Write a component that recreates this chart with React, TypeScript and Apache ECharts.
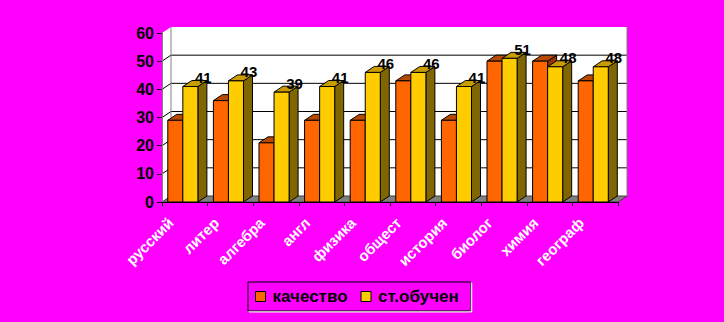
import React, { useEffect, useRef } from "react";
import * as echarts from "echarts";

const categories = ["русский", "литер", "алгебра", "англ", "физика", "общест", "история", "биолог", "химия", "географ"];
const quality = [29, 36, 21, 29, 29, 43, 29, 50, 50, 43];
const avgGrade = [41, 43, 39, 41, 46, 46, 41, 51, 48, 48];
const seriesNames = ["качество", "ст.обучен"];
const yTicks = [0, 10, 20, 30, 40, 50, 60];

const FONT = "'Liberation Sans', Arial, sans-serif";
const DX = 9;
const DY = -6;

const palettes = [
  { front: "#FF6600", top: "#B84A00", side: "#993300" },
  { front: "#FFCC00", top: "#C99C00", side: "#806600" },
];

function makeBarRender(idx: number, showLabel: boolean) {
  const pal = palettes[idx];
  return (params: any, api: any) => {
    const ci = api.value(0);
    const v = api.value(1);
    const base = api.coord([ci, 0]);
    const topPt = api.coord([ci, v]);
    const bw = api.size([1, 0])[0];
    const w = bw * 0.33;
    const x0 = base[0] - bw * 0.373 + idx * w;
    const x1 = x0 + w;
    const y0 = base[1];
    const y1 = topPt[1];
    const children: any[] = [
      {
        type: "polygon",
        shape: { points: [[x1, y1], [x1 + DX, y1 + DY], [x1 + DX, y0 + DY], [x1, y0]] },
        style: { fill: pal.side, stroke: "#000", lineWidth: 1 },
      },
      {
        type: "polygon",
        shape: { points: [[x0, y1], [x0 + DX, y1 + DY], [x1 + DX, y1 + DY], [x1, y1]] },
        style: { fill: pal.top, stroke: "#000", lineWidth: 1 },
      },
      {
        type: "rect",
        shape: { x: x0, y: y1, width: w, height: y0 - y1 },
        style: { fill: pal.front, stroke: "#000", lineWidth: 1 },
      },
    ];
    if (showLabel) {
      children.push({
        type: "text",
        x: (x0 + x1) / 2 + 13,
        y: y1 - 9,
        style: {
          text: String(v),
          fill: "#000",
          font: `bold 15px ${FONT}`,
          align: "center",
          verticalAlign: "middle",
        },
      });
    }
    return { type: "group", children };
  };
}

function wallsRender(params: any, api: any) {
  const cs = params.coordSys;
  const L = cs.x;
  const T = cs.y;
  const W = cs.width;
  const B = cs.y + cs.height;
  const children: any[] = [
    {
      type: "polygon",
      shape: { points: [[L, T], [L + DX, T + DY], [L + DX, B + DY], [L, B]] },
      style: { fill: "#fff" },
    },
    {
      type: "rect",
      shape: { x: L + DX, y: T + DY, width: W, height: cs.height },
      style: { fill: "#fff" },
    },
    {
      type: "polygon",
      shape: { points: [[L, B], [L + DX, B + DY], [L + DX + W, B + DY], [L + W, B]] },
      style: { fill: "#808080", stroke: "#404040", lineWidth: 1 },
    },
  ];
  yTicks.forEach((t) => {
    if (t === 0 || t === yTicks[yTicks.length - 1]) return;
    const y = api.coord([0, t])[1];
    children.push({
      type: "polyline",
      shape: { points: [[L, y], [L + DX, y + DY], [L + DX + W, y + DY]] },
      style: { stroke: "#000", lineWidth: 1, fill: null },
    });
  });
  children.push({
    type: "line",
    shape: { x1: L + DX, y1: T + DY, x2: L + DX, y2: B + DY },
    style: { stroke: "#808080", lineWidth: 1 },
  });
  children.push({
    type: "line",
    shape: { x1: L + DX + W, y1: T + DY, x2: L + DX + W, y2: B + DY },
    style: { stroke: "#808080", lineWidth: 1 },
  });
  return { type: "group", children };
}

export default function App() {
  const ref = useRef<HTMLDivElement>(null);
  useEffect(() => {
    if (!ref.current) return;
    const chart = echarts.init(ref.current, null, { renderer: "svg" });
    const qualityData = quality.map((v, i) => [i, v]);
    const avgData = avgGrade.map((v, i) => [i, v]);
    chart.setOption({
      animation: false,
      backgroundColor: "#FF00FF",
      grid: { left: 162, right: 106, top: 33, bottom: 120, containLabel: false },
      legend: {
        data: seriesNames,
        left: 248,
        top: 282,
        orient: "horizontal",
        icon: "rect",
        itemWidth: 10,
        itemHeight: 10,
        itemGap: 13,
        padding: [6, 12, 6, 7],
        borderColor: "#000",
        borderWidth: 1,
        backgroundColor: "#FF00FF",
        shadowColor: "#fff",
        shadowBlur: 0,
        shadowOffsetX: 1,
        shadowOffsetY: 1,
        itemStyle: { borderColor: "#000", borderWidth: 1 },
        textStyle: { color: "#000", fontSize: 17, fontWeight: "bold", fontFamily: FONT, padding: [0, 0, 0, 2] },
      },
      xAxis: {
        type: "category",
        data: categories,
        z: 10,
        axisLine: { show: true, lineStyle: { color: "#000", width: 1 } },
        axisTick: { show: true, length: 4, lineStyle: { color: "#000" } },
        axisLabel: {
          interval: 0,
          rotate: 45,
          margin: 4,
          padding: [0, 20, 0, 0],
          color: "#fff",
          fontSize: 15,
          fontWeight: "bold",
          fontFamily: FONT,
          textShadowColor: "#222",
          textShadowBlur: 0,
          textShadowOffsetX: 1,
          textShadowOffsetY: 1,
        },
        splitLine: { show: false },
      },
      yAxis: {
        type: "value",
        min: 0,
        max: 60,
        interval: 10,
        z: 10,
        axisLine: { show: true, lineStyle: { color: "#808080", width: 1 } },
        axisTick: { show: true, length: 5, lineStyle: { color: "#000" } },
        axisLabel: {
          margin: 8,
          color: "#000",
          fontSize: 16,
          fontWeight: "bold",
          fontFamily: FONT,
          textShadowColor: "#fff",
          textShadowBlur: 0,
          textShadowOffsetX: -1,
          textShadowOffsetY: 0,
        },
        splitLine: { show: false },
      },
      series: [
        {
          name: "walls",
          type: "custom",
          z: 1,
          silent: true,
          data: [[0, 0]],
          renderItem: wallsRender,
          encode: { x: 0, y: 1 },
        },
        {
          name: seriesNames[0],
          type: "custom",
          z: 2,
          itemStyle: { color: palettes[0].front },
          data: qualityData,
          renderItem: makeBarRender(0, false),
          encode: { x: 0, y: 1 },
        },
        {
          name: seriesNames[1],
          type: "custom",
          z: 3,
          itemStyle: { color: palettes[1].front },
          data: avgData,
          renderItem: makeBarRender(1, true),
          encode: { x: 0, y: 1 },
        },
      ],
    });
    return () => chart.dispose();
  }, []);
  return (
    <div
      ref={ref}
      style={{ position: "fixed", left: 0, top: 0, width: 724, height: 322, background: "#FF00FF" }}
    />
  );
}
